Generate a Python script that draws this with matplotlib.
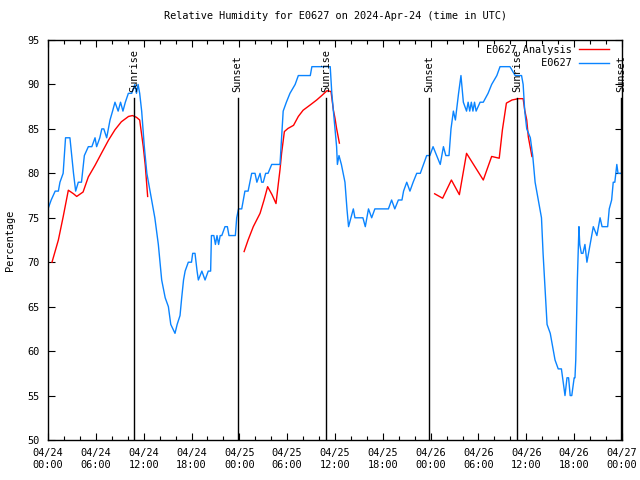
import numpy as np
import matplotlib
matplotlib.use("Agg")
import matplotlib.pyplot as plt
import matplotlib.transforms as mtransforms

# ---- data (hours since 2024-04-24 00:00 UTC) ----
obs_hours = [0.0, 0.4, 0.9, 1.3, 1.5, 1.9, 2.2, 2.75, 3.2, 3.47, 3.8, 4.2, 4.56, 5.06, 5.5, 5.9, 6.1,
             6.5, 6.75, 7.0, 7.36, 7.78, 8.1, 8.4, 8.8, 9.1, 9.4, 9.7, 10.08, 10.5, 10.9, 11.1, 11.3,
             11.5, 11.75, 12.08, 12.4, 13.0, 13.4, 13.84, 14.26, 14.7, 15.1, 15.4, 15.93, 16.2, 16.56,
             16.77, 17.0, 17.2, 17.6, 18.0, 18.15, 18.44, 18.7, 18.86, 19.3, 19.7, 20.1, 20.4, 20.5,
             20.8, 21.0, 21.2, 21.4, 21.6, 21.8, 22.2, 22.5, 22.7, 23.0, 23.5, 23.67, 23.9, 24.3, 24.7,
             25.1, 25.55, 25.97, 26.2, 26.6, 26.8, 27.0, 27.3, 27.6, 28.06, 28.5, 29.1, 29.3, 29.5,
             29.9, 30.35, 31.0, 31.4, 32.9, 33.1, 35.2, 35.4, 35.6, 35.8, 36.0, 36.2, 36.3, 36.5, 36.8,
             37.25, 37.5, 37.7, 38.0, 38.3, 38.5, 39.5, 39.8, 40.2, 40.6, 41.0, 42.7, 43.1, 43.5, 43.95,
             44.4, 44.6, 45.0, 45.4, 45.8, 46.25, 46.7, 47.1, 47.5, 47.9, 48.3, 48.75, 49.2, 49.6, 49.9,
             50.3, 50.55, 50.85, 51.1, 51.5, 51.8, 52.1, 52.5, 52.7, 52.9, 53.1, 53.3, 53.5, 53.7, 54.2,
             54.6, 55.2, 55.65, 56.3, 56.7, 57.95, 58.6, 59.0, 59.4, 59.6, 59.8, 60.05, 60.5, 60.8, 61.1,
             61.5, 61.9, 62.1, 62.35, 62.6, 63.0, 63.2, 63.6, 64.0, 64.4, 64.85, 65.1, 65.3, 65.5, 65.7,
             66.0, 66.1, 66.2, 66.4, 66.6, 66.7, 66.9, 67.1, 67.35, 67.6, 68.0, 68.4, 68.85, 69.25, 69.5,
             69.7, 70.2, 70.4, 70.7, 70.9, 71.1, 71.35, 71.5, 71.75, 72.0]
obs_values = [76, 77, 78, 78, 79, 80, 84, 84, 80, 78, 79, 79, 82, 83, 83, 84, 83,
              84, 85, 85, 84, 86, 87, 88, 87, 88, 87, 88, 89, 89, 90, 89, 90,
              89, 87, 83, 80, 77, 75, 72, 68, 66, 65, 63, 62, 63, 64,
              66, 68, 69, 70, 70, 71, 71, 69, 68, 69, 68, 69, 69, 73,
              73, 72, 73, 72, 73, 73, 74, 74, 73, 73, 73, 75, 76, 76, 78,
              78, 80, 80, 79, 80, 79, 79, 80, 80, 81, 81, 81, 84, 87,
              88, 89, 90, 91, 91, 92, 92, 92, 89, 87, 85, 83, 81, 82, 81,
              79, 76, 74, 75, 76, 75, 75, 74, 76, 75, 76, 76, 77, 76, 77,
              77, 78, 79, 78, 79, 80, 80, 81, 82, 82, 83, 82, 81, 83, 82,
              82, 85, 87, 86, 89, 91, 88, 87, 88, 87, 88, 87, 88, 87, 88,
              88, 89, 90, 91, 92, 92, 91, 91, 91, 90, 87, 85, 84, 82, 79,
              77, 75, 71, 67, 63, 62, 61, 59, 58, 58, 55, 57, 57, 55, 55,
              57, 57, 59, 68, 74, 72, 71, 71, 72, 70, 72, 74, 73, 75, 74,
              74, 74, 76, 77, 79, 79, 81, 80, 80, 80]

ana_hours = [0.5, 1.3, 1.9, 2.55, 3.2, 3.6, 4.4, 5.06, 5.9, 6.7, 7.6, 8.4, 9.2, 10.1, 10.6, 11.1,
             11.5, 11.95, 12.2, 12.5,
             np.nan,
             24.6, 25.1, 25.75, 26.6, 27.1, 27.55, 28.1, 28.6, 28.9, 29.1, 29.3, 29.65, 30.1, 30.8,
             31.4, 32.0, 32.9, 33.7, 34.4, 35.0, 35.5, 35.8, 36.0, 36.2, 36.55,
             np.nan,
             48.5, 49.5, 50.6, 51.6, 52.5, 54.6, 55.65, 56.6, 57.0, 57.5, 58.2, 59.0, 59.6, 59.8,
             60.05, 60.25, 60.6, 60.7]
ana_values = [70.0, 72.5, 75.1, 78.1, 77.7, 77.4, 77.9, 79.6, 80.9, 82.25, 83.75, 84.9, 85.8, 86.4,
              86.5, 86.3, 86.0, 83.0, 80.9, 77.4,
              np.nan,
              71.2, 72.5, 74.0, 75.5, 77.0, 78.5, 77.6, 76.6, 78.9, 80.4, 82.25, 84.7, 85.05, 85.4,
              86.4, 87.1, 87.7, 88.25, 88.8, 89.3, 89.2, 87.1, 86.2, 85.05, 83.4,
              np.nan,
              77.7, 77.2, 79.25, 77.6, 82.25, 79.25, 81.9, 81.7, 84.9, 87.9, 88.25, 88.4, 88.4, 87.1,
              86.0, 84.1, 82.4, 81.9]

sun_hours = [10.83, 23.8, 34.84, 47.83, 58.87, 71.87]
sun_labels = ["Sunrise", "Sunset", "Sunrise", "Sunset", "Sunrise", "Sunset"]

xtick_hours = [0, 6, 12, 18, 24, 30, 36, 42, 48, 54, 60, 66, 72]
xtick_labels = ["04/24\n00:00", "04/24\n06:00", "04/24\n12:00", "04/24\n18:00",
                "04/25\n00:00", "04/25\n06:00", "04/25\n12:00", "04/25\n18:00",
                "04/26\n00:00", "04/26\n06:00", "04/26\n12:00", "04/26\n18:00",
                "04/27\n00:00"]
ytick_values = [50, 55, 60, 65, 70, 75, 80, 85, 90, 95]

title = "Relative Humidity for E0627 on 2024-Apr-24 (time in UTC)"

# ---- plotting ----
FS = 7.4
plt.rcParams['font.family'] = ['DejaVu Sans Mono']
plt.rcParams['font.size'] = FS

fig = plt.figure(figsize=(6.4, 4.8), dpi=100)
ax = fig.add_axes([48 / 640, 40 / 480, 574 / 640, 400 / 480])

ax.plot(ana_hours, ana_values, color='#ff0000', lw=1.0, label="E0627 Analysis")
ax.plot(obs_hours, obs_values, color='#0a84ff', lw=1.0, label="         E0627")

trans = mtransforms.blended_transform_factory(ax.transData, ax.transAxes)
for h, lab in zip(sun_hours, sun_labels):
    ax.plot([h, h], [0, 0.855], transform=trans, color='black', lw=1.0)
    ax.text(h, 0.87, lab, transform=trans, rotation=90, ha='center', va='bottom',
            fontsize=FS)

ax.set_xlim(0, 72)
ax.set_ylim(50, 95)
ax.set_xticks(xtick_hours)
ax.set_xticklabels(xtick_labels)
ax.set_xticks(np.arange(0, 73, 2), minor=True)
ax.set_yticks(ytick_values)
ax.tick_params(axis='both', which='both', direction='in', top=True, right=True)
ax.tick_params(axis='both', which='major', length=5, width=0.8)
ax.tick_params(axis='x', which='minor', length=3, width=0.8)
ax.tick_params(axis='x', which='major', pad=6)
ax.tick_params(axis='y', which='major', pad=6)
for s in ax.spines.values():
    s.set_linewidth(1.0)

ax.set_ylabel("Percentage", labelpad=9)
ax.set_title(title, pad=15, fontsize=FS)

leg = ax.legend(loc='upper right', bbox_to_anchor=(0.988, 1.004), frameon=False,
                markerfirst=False, handlelength=2.9, handletextpad=0.7,
                borderaxespad=0.2, labelspacing=0.35, fontsize=FS)

fig.savefig("out.png", dpi=100)
